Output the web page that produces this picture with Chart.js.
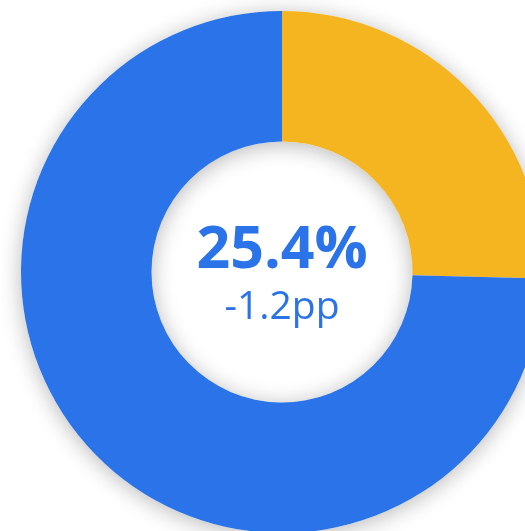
<!DOCTYPE html>
<html>
<head>
<meta charset="utf-8">
<script src="https://cdn.jsdelivr.net/npm/chart.js@4"></script>
<style>
  html, body { margin: 0; padding: 0; width: 525px; height: 531px; overflow: hidden; background: #ffffff; }
  #wrap { position: absolute; left: 1px; top: -9px; width: 562px; height: 562px; }
  .center { position: absolute; left: 0; width: 564px; text-align: center; color: #2a73e8; font-family: "Open Sans", "Noto Sans", sans-serif; pointer-events: none; white-space: nowrap; }
  #big { top: 207px; font-size: 59px; font-weight: 700; line-height: 76px; }
  #small { top: 283px; font-size: 39px; font-weight: 400; line-height: 42px; }
</style>
</head>
<body>
<div id="wrap"><canvas id="c"></canvas></div>
<div id="big" class="center">25.4%</div>
<div id="small" class="center">-1.2pp</div>
<script>
const categories = ['Share', 'Remainder'];
const values = [25.4, 74.6];
const colors = ['#f5b521', '#2a73e8'];
const centerValue = '25.4%';
const centerDelta = '-1.2pp';

document.getElementById('big').textContent = centerValue;
document.getElementById('small').textContent = centerDelta;

const ringShadow = {
  id: 'ringShadow',
  beforeDatasetsDraw(chart) {
    const meta = chart.getDatasetMeta(0);
    if (!meta.data.length) return;
    const a = meta.data[0];
    const ctx = chart.ctx;
    ctx.save();
    ctx.shadowColor = 'rgba(0,0,0,0.28)';
    ctx.shadowBlur = 22;
    ctx.shadowOffsetX = 0;
    ctx.shadowOffsetY = 3;
    ctx.fillStyle = '#ffffff';
    ctx.beginPath();
    ctx.arc(a.x, a.y, a.outerRadius, 0, Math.PI * 2);
    ctx.arc(a.x, a.y, a.innerRadius, 0, Math.PI * 2, true);
    ctx.closePath();
    ctx.fill();
    ctx.restore();
  }
};

new Chart(document.getElementById('c'), {
  type: 'doughnut',
  data: {
    labels: categories,
    datasets: [{
      data: values,
      backgroundColor: colors,
      borderWidth: 0,
      hoverOffset: 0
    }]
  },
  options: {
    responsive: true,
    maintainAspectRatio: false,
    animation: false,
    cutout: '50%',
    layout: { padding: 20 },
    plugins: {
      legend: { display: false },
      tooltip: { enabled: false }
    }
  },
  plugins: [ringShadow]
});
</script>
</body>
</html>
